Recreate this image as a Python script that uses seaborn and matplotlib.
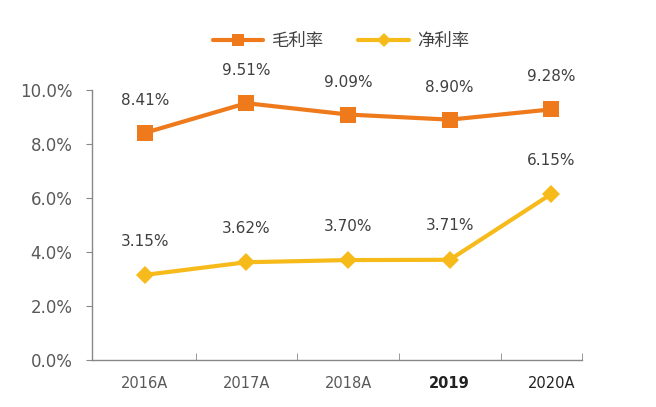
import pandas as pd
import numpy as np
import matplotlib.pyplot as plt
import seaborn as sns
from matplotlib.lines import Line2D

# dados
anos = ['2016A', '2017A', '2018A', '2019', '2020A']
margem_bruta = [8.41, 9.51, 9.09, 8.90, 9.28]
margem_liquida = [3.15, 3.62, 3.70, 3.71, 6.15]
series = ['毛利率', '净利率']

sns.set_style('white')
plt.rcParams['font.family'] = ['DejaVu Sans', 'Noto Sans CJK SC']

df = pd.DataFrame({
    'pos': list(range(len(anos))) * 2,
    'valor': margem_bruta + margem_liquida,
    'serie': [series[0]] * len(anos) + [series[1]] * len(anos),
})

cores = {'毛利率': '#EE7A1C', '净利率': '#F6BA1B'}
fig = plt.figure(figsize=(6.56, 4.07), dpi=100)
ax = fig.add_axes([0.140, 0.1155, 0.747, 0.6635])

sns.lineplot(data=df, x='pos', y='valor', hue='serie', style='serie',
             palette=cores, markers={'毛利率': 's', '净利率': 'D'}, dashes=False,
             linewidth=3, markersize=11, markeredgewidth=0, ax=ax, legend=False)
# diamante menor
ax.lines[1].set_markersize(9)

# rótulos dos valores
for i, v in enumerate(margem_bruta):
    ax.annotate(f'{v:.2f}%', (i, v), xytext=(0, 18), textcoords='offset points',
                ha='center', va='bottom', fontsize=11, color='#404040')
for i, v in enumerate(margem_liquida):
    ax.annotate(f'{v:.2f}%', (i, v), xytext=(0, 19), textcoords='offset points',
                ha='center', va='bottom', fontsize=11, color='#404040')

ax.set_ylim(0, 10)
ax.set_xlim(-0.52, 4.3)
ax.set_yticks(np.arange(0, 10.1, 2))
ax.set_yticklabels([f'{t:.1f}%' for t in np.arange(0, 10.1, 2)], fontsize=12, color='#595959')
ax.set_xticks(range(len(anos)))
ax.set_xticklabels(anos, fontsize=10.5, color='#595959')
ax.get_xticklabels()[3].set_color('#222222')
ax.get_xticklabels()[3].set_fontweight('bold')
ax.get_xticklabels()[4].set_color('#222222')
ax.set_xticks(list(np.arange(0.5, 4.0, 1)) + [4.3], minor=True)
ax.tick_params(axis='x', which='major', bottom=False, pad=8)
ax.tick_params(axis='x', which='minor', bottom=True, direction='in', length=5, color='#888888')
ax.tick_params(axis='y', left=True, direction='out', length=4, color='#888888', pad=10)
ax.set_xlabel('')
ax.set_ylabel('')
for s in ['top', 'right']:
    ax.spines[s].set_visible(False)
for s in ['left', 'bottom']:
    ax.spines[s].set_color('#888888')
    ax.spines[s].set_linewidth(1)

# legenda no topo
handles = [Line2D([], [], color=cores['毛利率'], marker='s', lw=3, markersize=9, markeredgewidth=0),
           Line2D([], [], color=cores['净利率'], marker='D', lw=3, markersize=7, markeredgewidth=0)]
fig.legend(handles, series, loc='center', bbox_to_anchor=(0.52, 0.9), ncol=2,
           frameon=False, fontsize=12.5, handlelength=2.9, handletextpad=0.5,
           columnspacing=2.0, labelcolor='#404040')

plt.savefig('out.png', dpi=100)
plt.close()
